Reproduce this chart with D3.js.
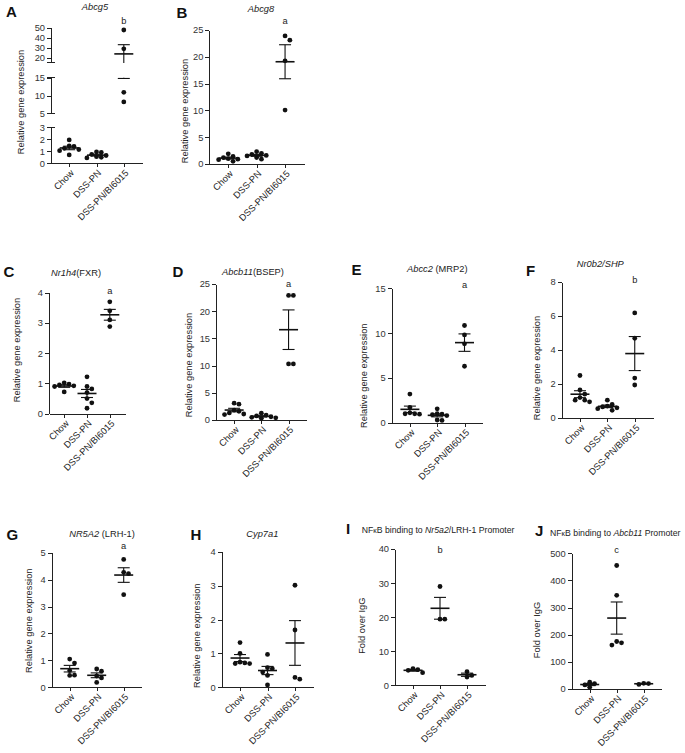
<!DOCTYPE html>
<meta charset="utf-8">
<head>
  <title>Gene expression panels</title>
</head>
<style>
body { margin: 0; background: #fff; }
svg { font-family: "Liberation Sans", Arial, sans-serif; }
.axis path, .axis line { stroke: #222; stroke-width: 1; shape-rendering: crispEdges; }
.axis text { fill: #333; font-size: 9.3px; }
.letter { font-size: 15px; font-weight: bold; fill: #111; }
.title, .ylab, .cat, .sig { font-size: 9.3px; fill: #222; }
.title.chip { font-size: 8.7px; }
.it { font-style: italic; }
.kappa { font-size: 7px; }
</style>
<body>
<svg width="685" height="753"></svg>

<script src="https://cdnjs.cloudflare.com/ajax/libs/d3/7.8.5/d3.min.js"></script>
<script>

// group names, shared by every panel
var groups = ['Chow', 'DSS-PN', 'DSS-PN/BI6015'];

// values per panel: [Chow, DSS-PN, DSS-PN/BI6015]
var abcg5 = [[1.95, 1.45, 1.4, 1.25, 1.15, 1.05, 0.7], [0.95, 0.9, 0.75, 0.65, 0.55, 0.5, 0.45], [47.7, 29, 10.9, 8.2]];
var abcg8 = [[1.9, 1.4, 1.2, 1.0, 0.9, 0.8, 0.5], [2.3, 2.0, 1.8, 1.6, 1.5, 1.2, 0.9], [23.9, 23.1, 19.25, 10.06]];
var nr1h4 = [[1.02, 0.98, 0.95, 0.92, 0.9, 0.72], [1.22, 0.9, 0.82, 0.7, 0.5, 0.36, 0.18], [3.7, 3.4, 3.1, 2.88]];
var abcb11 = [[3.1, 2.9, 1.8, 1.6, 1.3, 1.1, 1.0], [1.25, 0.9, 0.75, 0.6, 0.5, 0.4, 0.3], [22.9, 22.9, 10.3, 10.3]];
var abcc2 = [[3.2, 1.7, 1.1, 1.0, 1.0, 0.95], [1.55, 1.0, 0.95, 0.9, 0.8, 0.3, 0.25], [10.85, 9.8, 8.8, 6.3]];
var nr0b2 = [[2.5, 1.65, 1.4, 1.2, 1.05, 1.05, 0.95], [1.05, 0.8, 0.7, 0.65, 0.6, 0.55, 0.45], [6.18, 4.69, 2.35, 1.94]];
var nr5a2 = [[1.05, 0.9, 0.62, 0.45, 0.44], [0.68, 0.6, 0.42, 0.35, 0.18], [4.75, 4.27, 4.22, 3.44]];
var cyp7a1 = [[1.32, 1.0, 0.74, 0.72, 0.7, 0.7], [0.97, 0.58, 0.55, 0.45, 0.35, 0.07], [3.01, 1.69, 0.29, 0.24]];
var chipNr5a2 = [[4.9, 4.6, 4.4, 3.7], [29, 19.4, 19.4], [4.0, 2.9, 2.4]];
var chipAbcb11 = [[25, 20, 15, 6], [455, 345, 175, 170, 162], [17, 20, 21]];

// y ticks
var abcg5Segments = [[0, 3], [5, 15], [15, 50]];
var abcg5Ticks = [[0, 1, 2, 3], [5, 10, 15], [20, 30, 40, 50]];
var ticks25 = [0, 5, 10, 15, 20, 25];
var ticks4 = [0, 1, 2, 3, 4];
var ticks15 = [0, 5, 10, 15];
var ticks8 = [0, 2, 4, 6, 8];
var ticks5 = [0, 1, 2, 3, 4, 5];
var ticks40 = [0, 10, 20, 30, 40];
var ticks500 = [0, 100, 200, 300, 400, 500];

var RGE = 'Relative gene expression';

var panels = [
  {letter: 'A', lx: 6, ly: 17, title: [['Abcg5', 1]], tx: 95, ty: 10, data: abcg5,
   ax: [51, 142], y0: 163.3, broken: true,
   segRanges: [[163.3, 127.3], [113.3, 77.7], [62.9, 27.7]],
   sig: 'b', sy: 24, ylab: RGE, yl: [24, 102]},
  {letter: 'B', lx: 176.5, ly: 17.5, title: [['Abcg8', 1]], tx: 261, ty: 12, data: abcg8,
   ax: [209.3, 304], y0: 164, yTop: 30, max: 25, ticks: ticks25,
   sig: 'a', sy: 24, ylab: RGE, yl: [187.5, 111]},
  {letter: 'C', lx: 3.5, ly: 276.5, title: [['Nr1h4', 1], ['(FXR)', 0]], tx: 76, ty: 275.5, data: nr1h4,
   ax: [49, 125], y0: 413.7, yTop: 292.7, max: 4, ticks: ticks4,
   sig: 'a', sy: 294, ylab: RGE, yl: [19.5, 350]},
  {letter: 'D', lx: 172.5, ly: 276.5, title: [['Abcb11', 1], ['(BSEP)', 0]], tx: 253, ty: 274.5, data: abcb11,
   ax: [216, 306.7], y0: 420, yTop: 284, max: 25, ticks: ticks25,
   sig: 'a', sy: 286.5, ylab: RGE, yl: [191.8, 365]},
  {letter: 'E', lx: 351.5, ly: 275, title: [['Abcc2', 1], [' (MRP2)', 0]], tx: 437.3, ty: 272, data: abcc2,
   ax: [391.7, 482.7], y0: 422.7, yTop: 288.3, max: 15, ticks: ticks15,
   sig: 'a', sy: 287.5, ylab: RGE, yl: [366.8, 375.7]},
  {letter: 'F', lx: 526, ly: 276, title: [['Nr0b2/SHP', 1]], tx: 600.3, ty: 266.7, data: nr0b2,
   ax: [561.7, 653], y0: 418, yTop: 282, max: 8, ticks: ticks8,
   sig: 'b', sy: 283.3, ylab: RGE, yl: [540.2, 368]},
  {letter: 'G', lx: 6.5, ly: 540, title: [['NR5A2', 1], [' (LRH-1)', 0]], tx: 102, ty: 536.7, data: nr5a2,
   ax: [51.7, 141.7], y0: 687.3, yTop: 552.7, max: 5, ticks: ticks5,
   sig: 'a', sy: 549.3, ylab: RGE, yl: [31.8, 620.7]},
  {letter: 'H', lx: 190.5, ly: 540, title: [['Cyp7a1', 1]], tx: 262.3, ty: 536.7, data: cyp7a1,
   ax: [221.7, 313.3], y0: 687.3, yTop: 551.7, max: 4, ticks: ticks4,
   sig: '', sy: 0, ylab: RGE, yl: [200.2, 635.7]},
  {letter: 'I', lx: 346, ly: 534, title: [['NF', 0], ['\u03ba', 2], ['B binding to ', 0], ['Nr5a2', 1], ['/LRH-1 Promoter', 0]],
   tx: 361.7, ty: 533, anchor: 'start', chip: true, data: chipNr5a2,
   ax: [395, 485], y0: 685.3, yTop: 549, max: 40, ticks: ticks40,
   sig: 'b', sy: 553.3, ylab: 'Fold over IgG', yl: [365.2, 625.7]},
  {letter: 'J', lx: 535, ly: 535.5, title: [['NF', 0], ['\u03ba', 2], ['B binding to ', 0], ['Abcb11', 1], [' Promoter', 0]],
   tx: 550, ty: 535.7, anchor: 'start', chip: true, data: chipAbcb11,
   ax: [571.7, 661.7], y0: 689, yTop: 553.3, max: 500, ticks: ticks500,
   sig: 'c', sy: 553.3, ylab: 'Fold over IgG', yl: [540.2, 630]}
];

var svg = d3.select('svg');
var R = 2.4;

function mean(a) { return d3.mean(a); }
function sem(a) { return d3.deviation(a) / Math.sqrt(a.length); }

// greedy swarm: put points side by side when they would overlap
function swarm(values, yPos, cx) {
  var placed = [];
  var order = values.map(function(v, i) { return i; })
    .sort(function(a, b) { return values[b] - values[a]; });
  var out = [];
  order.forEach(function(i) {
    var y = yPos(values[i]);
    var offs = [0, 4.8, -4.8, 9.6, -9.6, 14.4, -14.4];
    for (var k = 0; k < offs.length; k++) {
      var x = cx + offs[k];
      var hit = placed.some(function(p) {
        return Math.hypot(p[0] - x, p[1] - y) < 2 * R;
      });
      if (!hit) break;
    }
    placed.push([x, y]);
    out.push({x: x, y: y});
  });
  return out;
}

panels.forEach(function(p) {
  var g = svg.append('g');

  // letter & title
  g.append('text').attr('class', 'letter').attr('x', p.lx).attr('y', p.ly).text(p.letter);
  var t = g.append('text').attr('class', p.chip ? 'title chip' : 'title')
    .attr('x', p.tx).attr('y', p.ty)
    .attr('text-anchor', p.anchor || 'middle');
  p.title.forEach(function(s) {
    t.append('tspan').classed('it', s[1] === 1).classed('kappa', s[1] === 2).text(s[0]);
  });

  // y label
  g.append('text').attr('class', 'ylab')
    .attr('transform', 'translate(' + p.yl[0] + ',' + p.yl[1] + ') rotate(-90)')
    .attr('text-anchor', 'middle')
    .text(p.ylab);

  var x = d3.scalePoint().domain(groups).range(p.ax).padding(2 / 3);

  // y scales (one per axis segment for the broken axis)
  var segs;
  if (p.broken) {
    segs = abcg5Segments.map(function(dom, i) {
      return {dom: dom, ticks: abcg5Ticks[i], s: d3.scaleLinear().domain(dom).range(p.segRanges[i])};
    });
  } else {
    segs = [{dom: [0, p.max], ticks: p.ticks, s: d3.scaleLinear().domain([0, p.max]).range([p.y0, p.yTop])}];
  }
  function segOf(v) {
    for (var i = 0; i < segs.length; i++) {
      if (v >= segs[i].dom[0] && v <= segs[i].dom[1]) return segs[i];
    }
    return null;
  }
  function yPos(v) { return segOf(v).s(v); }

  segs.forEach(function(sg, i) {
    g.append('g').attr('class', 'axis')
      .attr('transform', 'translate(' + p.ax[0] + ',0)')
      .call(d3.axisLeft(sg.s).tickValues(sg.ticks).tickSize(4).tickSizeOuter(0).tickPadding(2)
        .tickFormat(d3.format('d')));
    if (p.broken) {
      // break caps
      var ends = [];
      if (i > 0) ends.push(sg.dom[0]);
      if (i < segs.length - 1) ends.push(sg.dom[1]);
      ends.forEach(function(v) {
        g.append('line').attr('class', 'cap')
          .attr('x1', p.ax[0] - 4).attr('x2', p.ax[0] + 4)
          .attr('y1', sg.s(v)).attr('y2', sg.s(v))
          .attr('stroke', '#222').attr('shape-rendering', 'crispEdges');
      });
    }
  });

  // x axis
  g.append('g').attr('class', 'axis')
    .attr('transform', 'translate(0,' + p.y0 + ')')
    .call(d3.axisBottom(x).tickSize(4).tickSizeOuter(0).tickFormat(''));

  groups.forEach(function(name) {
    g.append('text').attr('class', 'cat')
      .attr('transform', 'translate(' + (x(name) + 3) + ',' + (p.y0 + 8) + ') rotate(-45)')
      .attr('text-anchor', 'end')
      .attr('dy', '0.35em')
      .text(name);
  });

  // dots, mean and SEM
  p.data.forEach(function(vals, gi) {
    var cx = x(groups[gi]);
    var pts = swarm(vals, yPos, cx);
    g.selectAll(null).data(pts).enter().append('circle')
      .attr('cx', function(d) { return d.x; })
      .attr('cy', function(d) { return d.y; })
      .attr('r', R)
      .attr('fill', '#111');

    var m = mean(vals), e = sem(vals);
    var lo = m - e, hi = m + e;
    segs.forEach(function(sg) {
      var a = Math.max(lo, sg.dom[0]), b = Math.min(hi, sg.dom[1]);
      if (a < b) {
        g.append('line').attr('x1', cx).attr('x2', cx)
          .attr('y1', sg.s(a)).attr('y2', sg.s(b))
          .attr('stroke', '#111').attr('stroke-width', 1.1);
      }
    });
    [lo, hi].forEach(function(v) {
      var sg = segOf(v);
      if (!sg) return;
      g.append('line').attr('x1', cx - 6).attr('x2', cx + 6)
        .attr('y1', sg.s(v)).attr('y2', sg.s(v))
        .attr('stroke', '#111').attr('stroke-width', 1.1);
    });
    g.append('line').attr('x1', cx - 9.5).attr('x2', cx + 9.5)
      .attr('y1', yPos(m)).attr('y2', yPos(m))
      .attr('stroke', '#111').attr('stroke-width', 1.6);
  });

  if (p.sig) {
    g.append('text').attr('class', 'sig')
      .attr('x', x(groups[p.chip ? 1 : 2]))
      .attr('y', p.sy).attr('text-anchor', 'middle').text(p.sig);
  }
});

</script>
</body>
</html>
